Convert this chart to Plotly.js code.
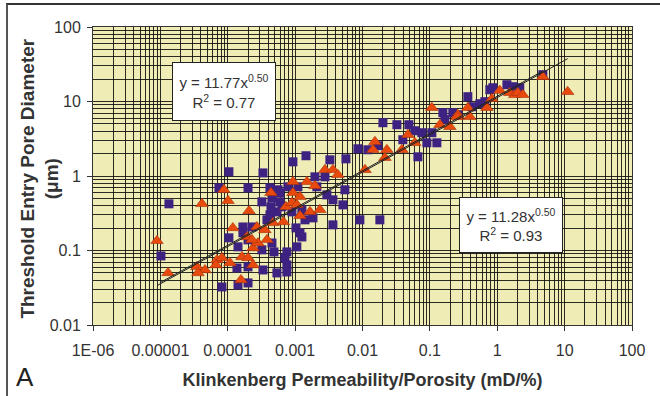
<!DOCTYPE html>
<html>
<head>
<meta charset="utf-8">
<script src="https://cdn.plot.ly/plotly-3.0.1.min.js"></script>
<style>
  html, body { margin: 0; padding: 0; background: #fff; }
  #wrap { position: relative; width: 660px; height: 396px; overflow: hidden; }
  #chart { position: absolute; left: 0; top: 0; width: 660px; height: 396px; }
  #frame { position: absolute; left: 6px; top: 3px; width: 700px; height: 450px;
           border-top: 2px solid #333; border-left: 2px solid #555; pointer-events: none; }
</style>
</head>
<body>
<div id="wrap">
  <div id="chart"></div>
  <div id="frame"></div>
</div>
<script>
// Squares series (purple): Klinkenberg permeability/porosity (mD/%) vs threshold entry pore diameter (µm)
const squareX = [1.02e-5, 1.34e-5, 8.2e-5, 1.42e-4, 2.0e-4, 1.04e-4, 7.4e-5, 2.0e-4, 3.33e-4, 9.27e-4,
  1.45e-3, 1.04e-4, 1.68e-4, 1.68e-4, 1.42e-4, 1.37e-4, 2.0e-4, 3.33e-4, 5.37e-4, 7.55e-4,
  7.55e-4, 7.06e-4, 7.55e-4, 4.85e-4, 3.21e-4, 4.53e-4, 2.0e-4, 2.29e-4, 3.82e-4, 4.23e-4,
  5.37e-4, 4.38e-4, 3.21e-4, 4.53e-4, 5.94e-4, 6.37e-4, 4.23e-4, 5.56e-4, 7.82e-4, 1.10e-3,
  2.10e-3, 5.94e-4, 8.97e-4, 1.26e-3, 1.40e-3, 1.84e-3, 1.03e-3, 1.18e-3, 1.26e-3, 1.97e-3,
  2.77e-3, 2.96e-3, 3.64e-3, 5.48e-3, 5.12e-3, 3.64e-3, 5.68e-3, 8.55e-3, 1.20e-2, 1.69e-2,
  9.14e-3, 1.81e-2, 2.01e-2, 3.24e-2, 4.88e-2, 5.98e-2, 7.6e-2, 0.107, 9.02e-2, 0.127,
  3.97e-2, 6.64e-2, 0.156, 0.219, 0.167, 0.260, 0.366, 0.552, 0.420, 0.655,
  0.776, 0.861, 1.39, 1.70, 2.16, 4.75, 3.28e-3, 1.06e-3];
const squareY = [0.0845, 0.423, 0.0324, 0.0345, 0.0367, 1.14, 0.693, 0.693, 1.10, 1.55,
  1.87, 0.148, 0.207, 0.173, 0.112, 0.0583, 0.0603, 0.0548, 0.050, 0.0515,
  0.064, 0.0796, 0.0957, 0.0957, 0.102, 0.126, 0.139, 0.207, 0.258, 0.301,
  0.330, 0.386, 0.450, 0.509, 0.450, 0.386, 0.693, 0.653, 0.716, 0.716,
  0.716, 0.594, 0.330, 0.352, 0.258, 0.274, 0.201, 0.173, 0.152, 0.975,
  0.975, 0.558, 0.479, 0.653, 0.410, 0.221, 1.70, 2.32, 2.25, 2.55,
  0.258, 0.258, 5.19, 4.88, 4.88, 4.05, 3.81, 3.81, 2.79, 2.79,
  3.07, 1.81, 7.07, 7.07, 5.69, 6.65, 11.6, 9.34, 8.51, 9.94,
  14.4, 15.3, 16.8, 15.8, 15.3, 22.9, 1.65, 0.112];

// Triangles series (orange)
const triX = [8.9e-6, 1.30e-5, 4.14e-5, 8.79e-5, 1.01e-4, 2.07e-4, 1.19e-4, 3.49e-5, 4.59e-5, 3.61e-5,
  6.92e-5, 8.2e-5, 1.08e-4, 6.68e-5, 1.63e-4, 2.0e-4, 2.37e-4, 1.57e-4, 1.93e-4, 2.37e-4,
  2.81e-4, 3.82e-4, 2.29e-4, 2.71e-4, 3.56e-4, 4.69e-4, 6.7e-4, 4.38e-4, 9.27e-4, 9.27e-4,
  1.18e-3, 7.3e-4, 8.97e-4, 1.06e-3, 1.66e-3, 2.33e-3, 1.18e-3, 1.50e-3, 1.97e-3, 2.77e-3,
  3.64e-3, 4.31e-3, 1.09e-2, 1.53e-2, 1.43e-2, 2.30e-2, 2.15e-2, 3.85e-2, 4.72e-2, 5.98e-2,
  0.107, 0.141, 0.198, 0.260, 0.366, 0.392, 0.702, 0.832, 1.09, 1.54,
  1.82, 2.02, 2.40, 4.75, 11.1, 0.252];
const triY = [0.135, 0.050, 0.423, 0.653, 0.465, 0.340, 0.201, 0.0603, 0.0548, 0.050,
  0.0748, 0.0796, 0.0681, 0.064, 0.082, 0.0796, 0.064, 0.0403, 0.152, 0.108,
  0.126, 0.139, 0.139, 0.207, 0.189, 0.235, 0.242, 0.594, 0.836, 0.594,
  0.525, 0.386, 0.437, 0.410, 0.330, 0.352, 0.292, 0.836, 0.738, 1.21,
  1.21, 1.04, 1.21, 2.88, 2.25, 2.25, 1.76, 2.25, 3.58, 2.79,
  8.26, 4.88, 4.58, 6.65, 8.26, 6.25, 8.26, 10.9, 14.0, 13.1,
  12.3, 13.1, 12.3, 21.5, 13.5, 6.25];

// Power-law trendlines (endpoints of y = 11.77x^0.50 and y = 11.28x^0.50 over each data range)
const fitSquareX = [1.02e-5, 4.75];
const fitSquareY = [0.0376, 25.65];
const fitTriX = [8.9e-6, 11.1];
const fitTriY = [0.0337, 37.58];

// Tick labels
const xTickVals = [1e-6, 1e-5, 1e-4, 1e-3, 1e-2, 1e-1, 1, 10, 100];
const xTickText = ['1E-06', '0.00001', '0.0001', '0.001', '0.01', '0.1', '1', '10', '100'];
const yTickVals = [0.01, 0.1, 1, 10, 100];
const yTickText = ['0.01', '0.1', '1', '10', '100'];

function minorVals(lo, hi) {
  const v = [];
  for (let e = lo; e < hi; e++) for (let m = 2; m <= 9; m++) v.push(m * Math.pow(10, e));
  return v;
}

const gridCol = 'rgba(15,15,15,0.88)';
const font = 'Liberation Sans, Arial, sans-serif';

const traces = [
  { x: squareX, y: squareY, type: 'scatter', mode: 'markers',
    marker: { symbol: 'square', size: 9, color: '#3d2282', line: { width: 0 } } },
  { x: triX, y: triY, type: 'scatter', mode: 'markers',
    marker: { symbol: 'triangle-up', size: 11, color: '#e84a0e', line: { width: 0.6, color: '#a8310c' } } },
  { x: fitSquareX, y: fitSquareY, type: 'scatter', mode: 'lines',
    line: { color: '#222', width: 1 } },
  { x: fitTriX, y: fitTriY, type: 'scatter', mode: 'lines',
    line: { color: '#222', width: 1 } }
];

const layout = {
  width: 660, height: 396,
  margin: { l: 93, r: 28, t: 27, b: 71 },
  paper_bgcolor: '#ffffff',
  plot_bgcolor: '#efedb5',
  showlegend: false,
  font: { family: font, color: '#333' },
  xaxis: {
    type: 'log', range: [-6, 2],
    tickmode: 'array', tickvals: xTickVals, ticktext: xTickText,
    ticks: 'outside', ticklen: 5, tickcolor: '#333',
    tickfont: { size: 16, color: '#333', family: font },
    ticklabelstandoff: 6,
    showgrid: true, gridcolor: gridCol, gridwidth: 1,
    minor: { tickvals: minorVals(-6, 2), showgrid: true, gridcolor: gridCol, gridwidth: 1, ticks: '' },
    showline: true, linecolor: '#333', linewidth: 1, mirror: true,
    zeroline: false, automargin: false,
    title: { text: '<b>Klinkenberg Permeability/Porosity (mD/%)</b>', font: { size: 18, color: '#333', family: font }, standoff: 15 }
  },
  yaxis: {
    type: 'log', range: [-2, 2],
    tickmode: 'array', tickvals: yTickVals, ticktext: yTickText,
    ticks: 'outside', ticklen: 5, tickcolor: '#333',
    tickfont: { size: 16, color: '#333', family: font },
    ticklabelstandoff: 3,
    showgrid: true, gridcolor: gridCol, gridwidth: 1,
    minor: { tickvals: minorVals(-2, 2), showgrid: true, gridcolor: gridCol, gridwidth: 1, ticks: '' },
    showline: true, linecolor: '#333', linewidth: 1, mirror: true,
    zeroline: false, automargin: false,
    title: { text: '' }
  },
  annotations: [
    { xref: 'paper', yref: 'paper', x: -0.099, y: 0.49, xanchor: 'center', yanchor: 'middle',
      textangle: -90, showarrow: false, align: 'center',
      text: '<b>Threshold Entry Pore Diameter<br>(μm)</b>',
      font: { size: 19, color: '#333', family: font } },
    { xref: 'paper', yref: 'paper', x: 0.243, y: 0.784, xanchor: 'center', yanchor: 'middle',
      text: 'y = 11.77x<sup>0.50</sup><br>R<sup>2</sup> = 0.77', showarrow: false, align: 'center',
      width: 94, height: 49, valign: 'middle',
      font: { size: 15, color: '#333', family: font },
      bgcolor: '#ffffff', bordercolor: '#222', borderwidth: 1, borderpad: 4 },
    { xref: 'paper', yref: 'paper', x: 0.776, y: 0.336, xanchor: 'center', yanchor: 'middle',
      text: 'y = 11.28x<sup>0.50</sup><br>R<sup>2</sup> = 0.93', showarrow: false, align: 'center',
      width: 94, height: 46, valign: 'middle',
      font: { size: 15, color: '#333', family: font },
      bgcolor: '#ffffff', bordercolor: '#222', borderwidth: 1, borderpad: 4 },
    { xref: 'paper', yref: 'paper', x: -0.127, y: -0.174, xanchor: 'center', yanchor: 'middle',
      text: 'A', showarrow: false, font: { size: 26, color: '#222', family: font } }
  ]
};

Plotly.newPlot('chart', traces, layout, { displayModeBar: false, staticPlot: true });
</script>
</body>
</html>
